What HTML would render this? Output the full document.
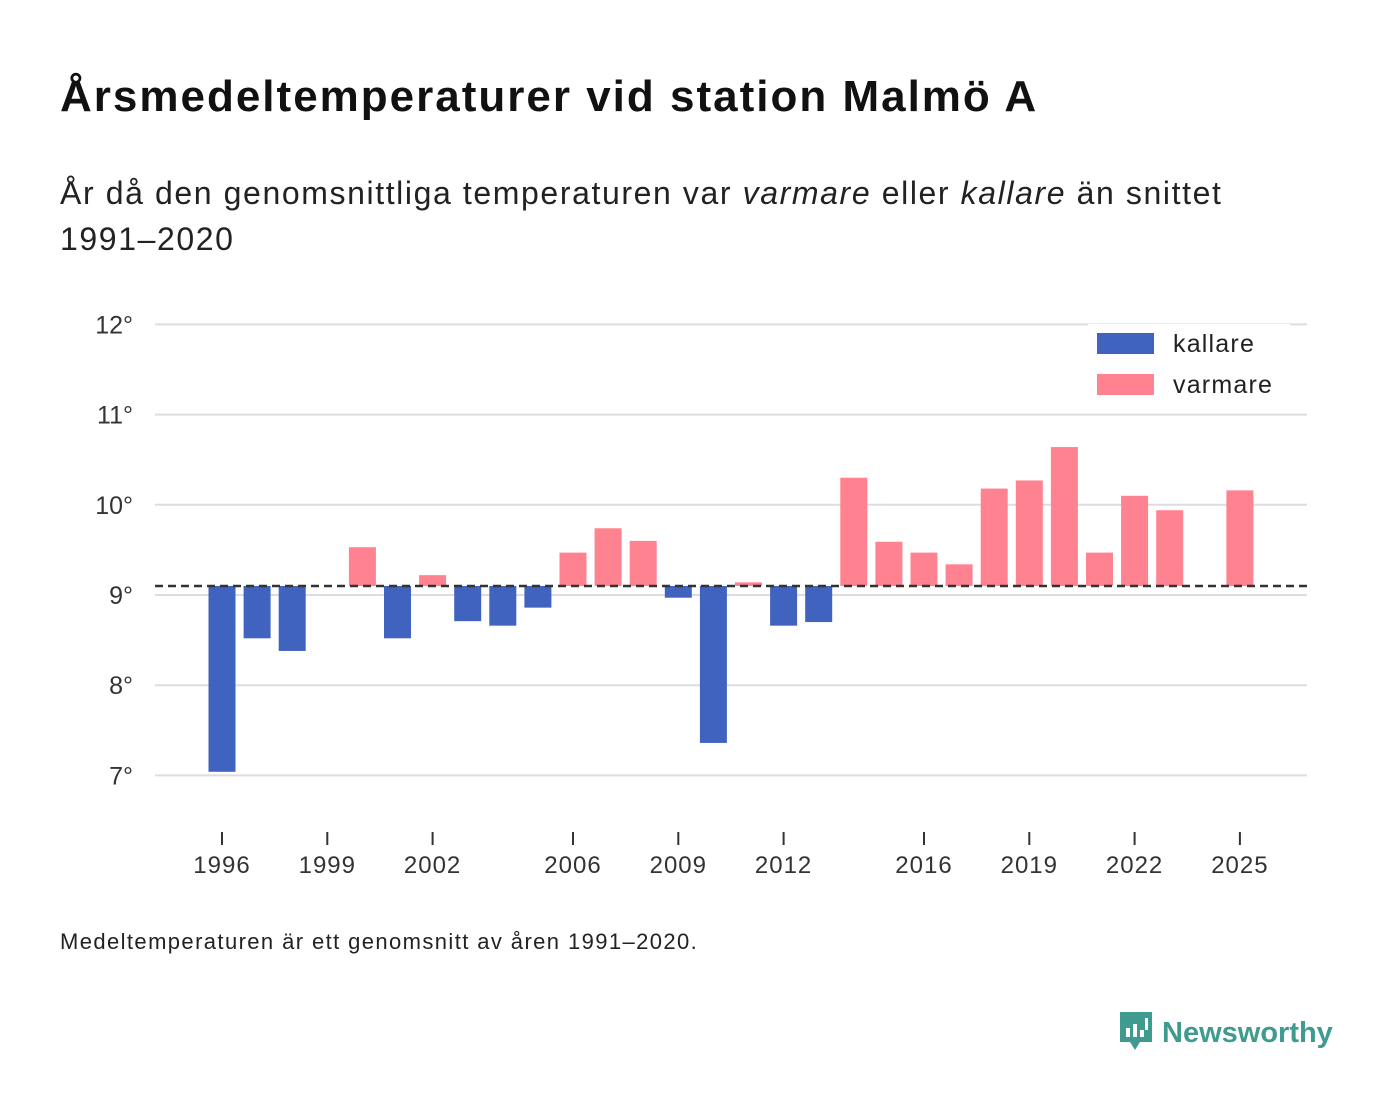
<!DOCTYPE html>
<html><head><meta charset="utf-8"><style>
body{margin:0;background:#fff;font-family:"Liberation Sans","DejaVu Sans",sans-serif;}
#wrap{position:relative;width:1400px;height:1116px;overflow:hidden;}
h1{position:absolute;left:60px;top:72px;margin:0;font-size:44px;letter-spacing:2px;font-weight:bold;color:#111;white-space:nowrap;}
.sub{position:absolute;left:60px;top:170px;font-size:32px;letter-spacing:1.6px;line-height:46px;color:#222;width:1250px;}
.foot{position:absolute;left:60px;top:929px;font-size:22px;letter-spacing:1.4px;color:#222;}
.logo{position:absolute;left:1118px;top:1010px;font-size:29px;font-weight:bold;color:#3f9a90;}
</style></head><body>
<div id="wrap">
<h1>Årsmedeltemperaturer vid station Malmö A</h1>
<div class="sub">År då den genomsnittliga temperaturen var <i>varmare</i> eller <i>kallare</i> än snittet<br>1991–2020</div>
<svg id="chart" width="1400" height="1116" style="position:absolute;left:0;top:0"></svg>
<div class="foot">Medeltemperaturen är ett genomsnitt av åren 1991–2020.</div>
<div class="logo"><svg width="36" height="42" viewBox="0 0 36 42" style="vertical-align:-10px;margin-right:8px"><path d="M2 2h32v30H22l-5 8-5-8H2z" fill="#3f9a90"/><rect x="8" y="18" width="4" height="9" fill="#fff"/><rect x="15" y="14" width="4" height="13" fill="#fff"/><rect x="22" y="20" width="4" height="7" fill="#fff"/><rect x="27" y="8" width="3" height="12" fill="#fff"/></svg>Newsworthy</div>
</div>
<script>
const years=[1996,1997,1998,1999,2000,2001,2002,2003,2004,2005,2006,2007,2008,2009,2010,2011,2012,2013,2014,2015,2016,2017,2018,2019,2020,2021,2022,2023,2024,2025];
const temps=[7.04,8.52,8.38,null,9.53,8.52,9.22,8.71,8.66,8.86,9.47,9.74,9.60,8.97,7.36,9.14,8.66,8.70,10.30,9.59,9.47,9.34,10.18,10.27,10.64,9.47,10.10,9.94,null,10.16];
const yTicks=[7,8,9,10,11,12];
const xTicks=[1996,1999,2002,2006,2009,2012,2016,2019,2022,2025];
const baseline=9.1;
const NS="http://www.w3.org/2000/svg";
const svg=document.getElementById('chart');
const y=v=>595-(v-9)*90.2;
const x=yr=>222+(yr-1996)*35.1;
function el(t,a,p){const e=document.createElementNS(NS,t);for(const k in a)e.setAttribute(k,a[k]);(p||svg).appendChild(e);return e;}
yTicks.forEach(t=>{
  const g=el('line',{x1:155,x2:1307,y1:y(t),y2:y(t),stroke:'#ddd','stroke-width':2});
  
  
  const l=el('text',{x:133,y:y(t)+9,'text-anchor':'end','font-size':25,fill:'#333','font-family':'Liberation Sans, sans-serif'});
  l.textContent=t+'°';
  
  
});
xTicks.forEach(t=>{
  const m=el('line',{x1:x(t),x2:x(t),y1:832,y2:845,stroke:'#333','stroke-width':2});
  
  
  const l=el('text',{x:x(t),y:873,'text-anchor':'middle','font-size':24,'letter-spacing':1,fill:'#333','font-family':'Liberation Sans, sans-serif'});
  l.textContent=t;
  
  
});
years.forEach((yr,i)=>{
  const v=temps[i]; if(v==null)return;
  const warm=v>=baseline;
  const top=y(Math.max(v,baseline)),bot=y(Math.min(v,baseline));
  const r=el('rect',{x:x(yr)-13.5,y:top,width:27,height:Math.max(bot-top,1),fill:warm?'#ff8291':'#4063c0'});
  
  
});
const bl=el('line',{x1:155,x2:1307,y1:y(baseline),y2:y(baseline),stroke:'#333','stroke-width':2.5,'stroke-dasharray':'8,5'});


const lg=el('rect',{x:1088,y:324,width:202,height:78,fill:'#fff'});


[['kallare','#4063c0',333],['varmare','#ff8291',374]].forEach(([n,c,yy])=>{
  const s=el('rect',{x:1097,y:yy,width:57,height:21,fill:c});
  
  
  const t=el('text',{x:1173,y:yy+19,'font-size':25,'letter-spacing':1.2,fill:'#222','font-family':'Liberation Sans, sans-serif'});
  t.textContent=n;
  
  
});
</script>
</body></html>
